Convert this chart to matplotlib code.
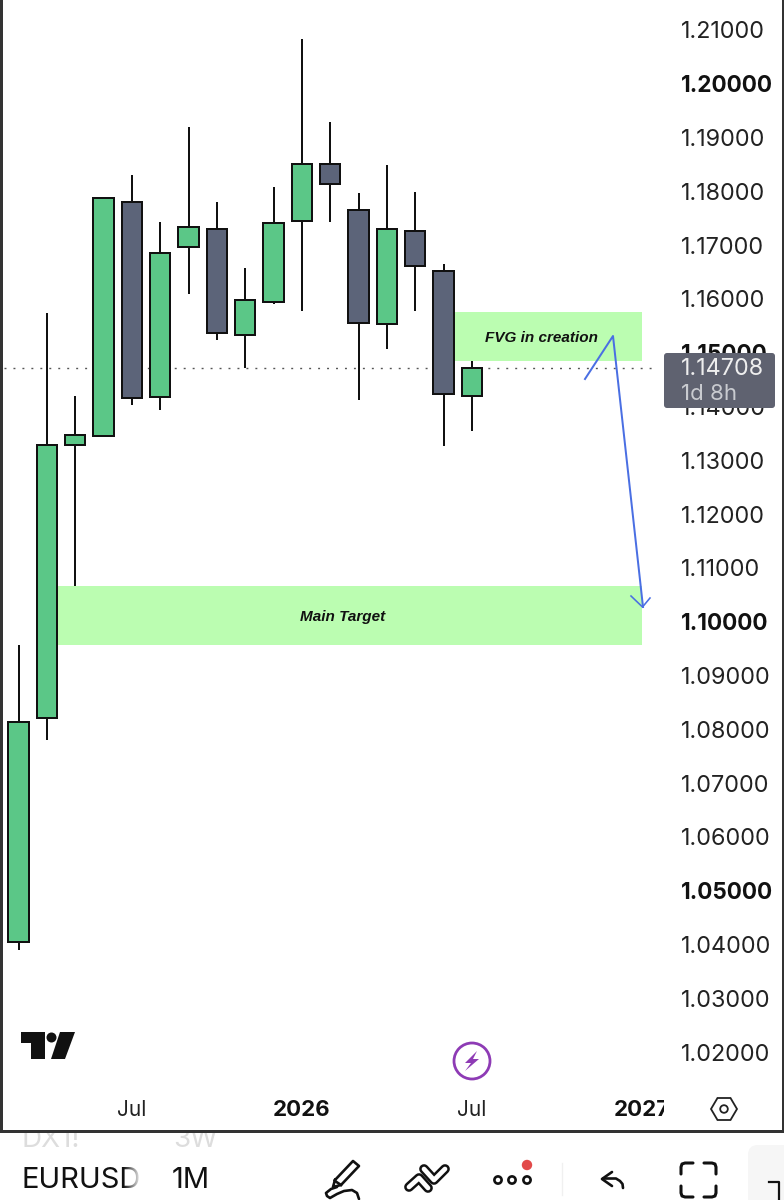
import matplotlib
matplotlib.use("Agg")
import matplotlib.pyplot as plt
from matplotlib.patches import Rectangle, FancyBboxPatch, Circle, Polygon, Ellipse
from matplotlib.transforms import Bbox

# ---- data (EURUSD, 1M) ----
opens  = [1.04045, 1.08209, 1.13285, 1.13452, 1.17802, 1.14177, 1.16966, 1.17300, 1.15330, 1.15943,
          1.17449, 1.18509, 1.17654, 1.15534, 1.17263, 1.16520, 1.14196]
closes = [1.08135, 1.13285, 1.13471, 1.17877, 1.14158, 1.16854, 1.17338, 1.15367, 1.15980, 1.17412,
          1.18509, 1.18137, 1.15553, 1.17300, 1.16613, 1.14233, 1.14708]
highs  = [1.09567, 1.15739, 1.14196, 1.17877, 1.18304, 1.17431, 1.19197, 1.17802, 1.16575, 1.18081,
          1.20833, 1.19290, 1.17970, 1.18490, 1.17988, 1.16650, 1.14846]
lows   = [1.03896, 1.07800, 1.10663, 1.13434, 1.14028, 1.13935, 1.16092, 1.15237, 1.14716, 1.15906,
          1.15776, 1.17431, 1.14121, 1.15069, 1.15776, 1.13266, 1.13545]
price_ticks = [1.21, 1.20, 1.19, 1.18, 1.17, 1.16, 1.15, 1.14, 1.13, 1.12, 1.11, 1.10,
               1.09, 1.08, 1.07, 1.06, 1.05, 1.04, 1.03, 1.02]
bold_prices = [1.20, 1.15, 1.10, 1.05]
time_pos = [4, 10, 16, 22]
time_labels = ["Jul", "2026", "Jul", "2027"]
time_bold = ["2026", "2027"]
last_price = 1.14708
fvg_zone = (15.4, 22.0, 1.14846, 1.15757)
target_zone = (1.4, 22.0, 1.09567, 1.10663)

GREEN, SLATE = "#5bc787", "#5c6479"
ZONE = "#bbfdb1"
INK = "#111111"
FONT = "Inter"
W, H = 784, 1200
PX = 0.72

fig = plt.figure(figsize=(W / 100, H / 100), dpi=100, facecolor="white")
L, R, T, B = 3, 664, 0, 1092
ax = fig.add_axes([L / W, 1 - B / H, (R - L) / W, (B - T) / H])
ax.set_xlim((L - 18.5) / 28.34, (R - 18.5) / 28.34)
ax.set_ylim(1.21 - (B - 30) / 5379, 1.21 + 30 / 5379)
for s in ax.spines.values():
    s.set_visible(False)

# zones
for x0, x1, y0, y1 in (fvg_zone, target_zone):
    ax.add_patch(Rectangle((x0, y0), x1 - x0, y1 - y0, fc=ZONE, ec="none", zorder=1))

ax.text(18.47, 1.1527, "FVG in creation", ha="center", va="center", fontsize=11, style="italic",
        weight="bold", family="Liberation Sans", color=INK, zorder=5)
ax.text(11.45, 1.1008, "Main Target", ha="center", va="center", fontsize=11, style="italic",
        weight="bold", family="Liberation Sans", color=INK, zorder=5)

# last price line
ax.plot([ax.get_xlim()[0] + 0.05, 22.55], [last_price, last_price], color="#555555", lw=1.4 * PX,
        ls=(0, (1.4, 5.0)), zorder=2)

# candles
idx = list(range(len(opens)))
colors = [GREEN if c >= o else SLATE for o, c in zip(opens, closes)]
ax.vlines(idx, lows, highs, color=INK, lw=2.0 * PX, zorder=3)
ax.bar(idx, [abs(c - o) for o, c in zip(opens, closes)], bottom=[min(o, c) for o, c in zip(opens, closes)],
       width=0.72, color=colors, edgecolor=INK, linewidth=2.0 * PX, zorder=4)

# axes ticks
ax.yaxis.tick_right()
ax.set_yticks(price_ticks)
ax.set_yticklabels([f"{p:.5f}" for p in price_ticks])
ax.tick_params(axis="y", length=0, pad=12.5, labelsize=16.8, labelcolor="#222222")
for lab, p in zip(ax.get_yticklabels(), price_ticks):
    lab.set_family(FONT)
    if p in bold_prices:
        lab.set_weight("bold")
        lab.set_color("#111111")
        lab.set_fontsize(16.2)
ax.set_xticks(time_pos)
ax.set_xticklabels(time_labels)
ax.tick_params(axis="x", length=0, pad=6, labelsize=15, labelcolor="#222222")
clip = Bbox([[0, 0], [R, H]])
for lab, t in zip(ax.get_xticklabels(), time_labels):
    lab.set_family(FONT)
    if t in time_bold:
        lab.set_weight("bold")
        lab.set_color("#111111")
        lab.set_fontsize(16)
    lab.set_clip_on(True)
    lab.set_clip_box(clip)

# overlay in pixels for interface chrome
ov = fig.add_axes([0, 0, 1, 1], facecolor="none")
ov.set_xlim(0, W)
ov.set_ylim(H, 0)
ov.axis("off")

# drawn arrow
BLUE = "#4a6fe3"
ov.plot([585, 613, 643], [379, 336, 607], color=BLUE, lw=2.0 * PX)
ov.plot([631, 642.5, 650], [596, 607, 598], color=BLUE, lw=1.6 * PX)

# last price badge
ov.add_patch(FancyBboxPatch((666, 355), 107, 51, boxstyle="round,pad=2,rounding_size=3", fc="#5f6270", ec="none", zorder=6))
ov.text(723, 369, "1.14708", ha="center", va="center", fontsize=16.8, family=FONT, color="#eeeeee", zorder=7)
ov.text(681, 394, "1d 8h", ha="left", va="center", fontsize=16, family=FONT, color="#c9cbd0", zorder=7)

# TradingView logo
ov.add_patch(Polygon([(21, 1032), (45, 1032), (45, 1059), (31, 1059), (31, 1043), (21, 1043)], fc="#111111", ec="none"))
ov.add_patch(Circle((51.5, 1037.5), 5, fc="#111111", ec="none"))
ov.add_patch(Polygon([(60, 1032), (75, 1032), (65, 1059), (51, 1059)], fc="#111111", ec="none"))

# lightning badge
ov.add_patch(Ellipse((472, 1061), 36, 36, fc="white", ec="#8e3bb5", lw=2.0))
ov.add_patch(Polygon([(477, 1051), (465, 1063), (471, 1063), (465, 1071), (479, 1059), (473, 1059)], fc="#8e3bb5", ec="none"))

# settings hexagon
ov.add_patch(Polygon([(711, 1109), (717.5, 1098), (730.5, 1098), (737, 1109), (730.5, 1120), (717.5, 1120)],
                     fc="none", ec="#222222", lw=1.3))
ov.add_patch(Circle((724, 1109), 3.8, fc="none", ec="#222222", lw=1.3))

# toolbar
ov.add_patch(Rectangle((0, 1133), W, 67, fc="white", ec="none", zorder=0.5))
ov.text(22, 1140, "DX1!", ha="left", va="center", fontsize=20, family=FONT, color="#dddddd", zorder=2)
ov.text(173, 1140, "3W", ha="left", va="center", fontsize=20, family=FONT, color="#dddddd", zorder=2)
ov.text(22, 1180.5, "EURUSD", ha="left", va="center", fontsize=21, family=FONT, color="#111111", zorder=3)
ov.text(172, 1180.5, "1M", ha="left", va="center", fontsize=21, family=FONT, color="#111111", zorder=3)
# fade on the last letter
for i in range(18):
    ov.add_patch(Rectangle((124 + i * 1.0, 1165), 1.2, 32, fc="white", ec="none", alpha=(i + 1) / 18, zorder=4))
ov.add_patch(Rectangle((141, 1165), 8, 32, fc="white", ec="none", zorder=4))

# frame, above the clipped grey toolbar texts
ov.add_patch(Rectangle((0, 1124), W, 9, fc="white", ec="none", zorder=4.5))
ov.add_patch(Rectangle((0, -5), 3, 1137, fc="#333333", ec="none", zorder=5))
ov.add_patch(Rectangle((782, -5), 2, 1137, fc="#333333", ec="none", zorder=5))
ov.add_patch(Rectangle((0, 1130), W, 3, fc="#333333", ec="none", zorder=5))

K = "#111111"
LW = 1.9
# pen
ov.plot([335, 353, 359, 341, 333, 335], [1180, 1161, 1166, 1185, 1187, 1180], color=K, lw=LW, solid_joinstyle="round")
ov.plot([335, 341], [1181, 1185], color=K, lw=LW)
ov.plot([337, 331, 326, 327, 330, 337, 344, 352, 357, 359], [1187, 1189, 1193, 1196, 1198, 1194, 1191, 1190, 1193, 1199],
        color=K, lw=LW, solid_capstyle="round")
# chevrons (outlined strokes)
for xs, ys in (([409, 419, 428], [1187, 1178, 1188]), ([424, 434, 445], [1169, 1180, 1169])):
    ov.plot(xs, ys, color=K, lw=7.0, solid_capstyle="round", solid_joinstyle="round")
    ov.plot(xs, ys, color="white", lw=3.4, solid_capstyle="round", solid_joinstyle="round")
# dots
for x in (498, 512, 527):
    ov.add_patch(Circle((x, 1180), 3.6, fc="none", ec=K, lw=1.9))
ov.add_patch(Circle((527, 1165), 5.2, fc="#e24a4a", ec="none"))
ov.plot([562.5, 562.5], [1163, 1195], color="#f0f0f0", lw=1)
# undo
ov.plot([623, 622.5, 620, 616, 603], [1188, 1184, 1181, 1178.5, 1178.5], color=K, lw=1.9, solid_capstyle="round")
ov.plot([612, 602, 612], [1172, 1179, 1186], color=K, lw=1.9, solid_capstyle="round", solid_joinstyle="round")
# fullscreen corners
for sx, sy in ((681, 1163), (716, 1163), (681, 1197), (716, 1197)):
    dx = 1 if sx == 681 else -1
    dy = 1 if sy == 1163 else -1
    ov.plot([sx + 12 * dx, sx + 4 * dx, sx + 1 * dx, sx, sx], [sy, sy, sy + 1 * dy, sy + 4 * dy, sy + 11 * dy],
            color=K, lw=2.2, solid_capstyle="round")
# right panel
ov.add_patch(FancyBboxPatch((748, 1145), 70, 80, boxstyle="round,pad=0,rounding_size=10", fc="#f6f6f6", ec="none"))
ov.plot([769, 779, 779], [1182, 1182, 1199], color=K, lw=1.6)

fig.savefig("out.png", dpi=100)
